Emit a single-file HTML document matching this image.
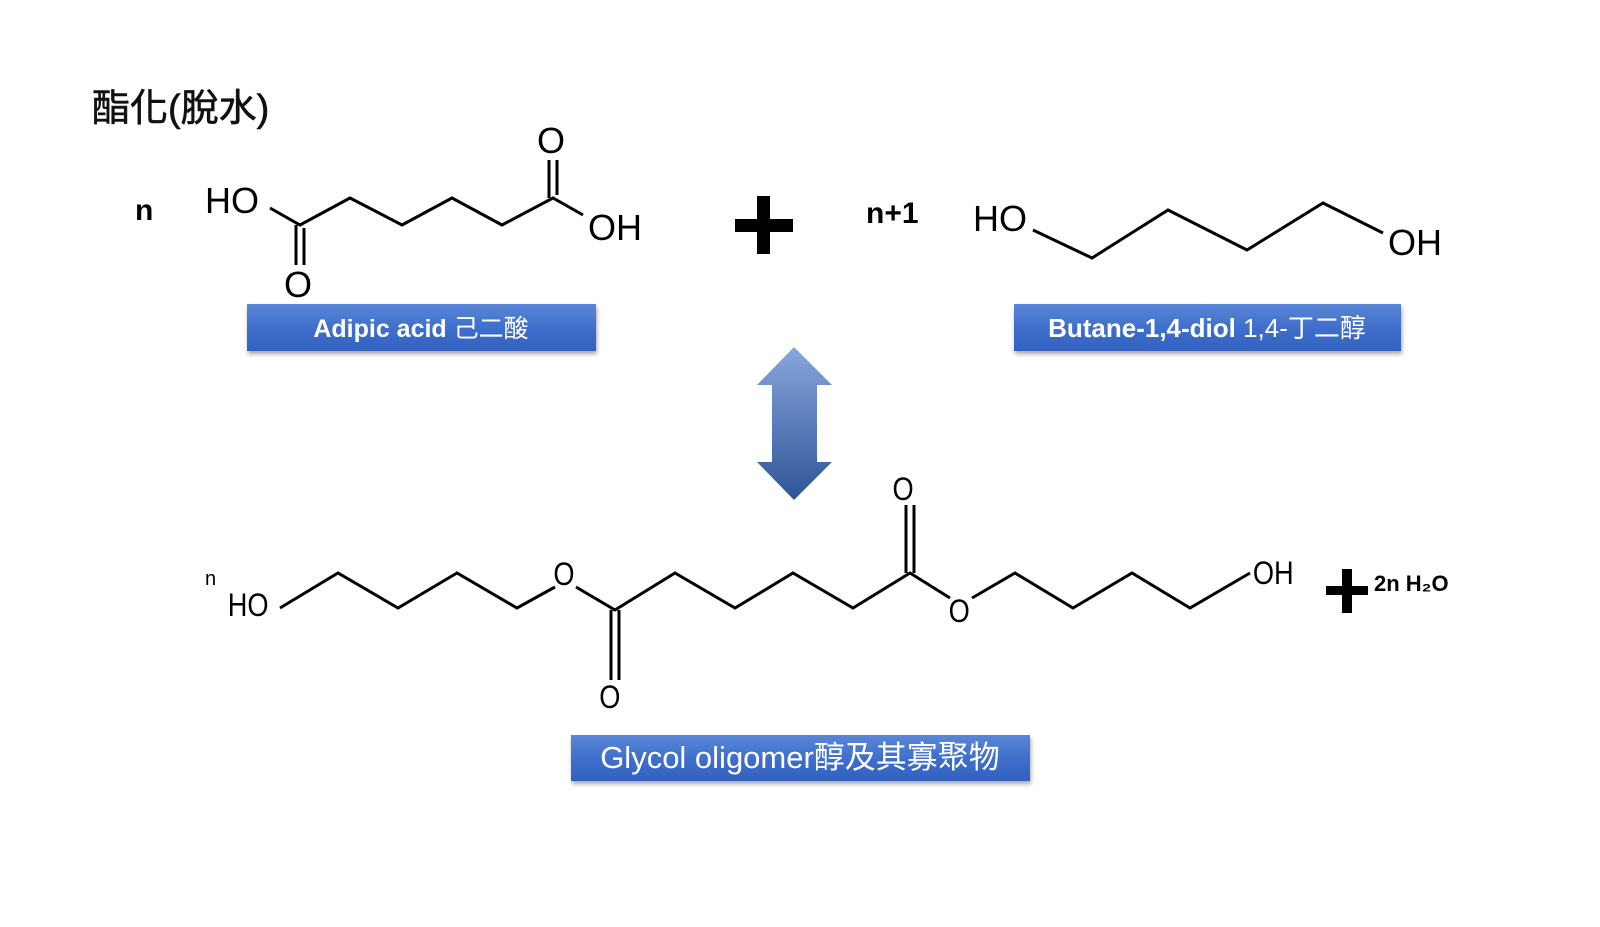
<!DOCTYPE html>
<html><head><meta charset="utf-8"><style>
body{margin:0;background:#fff;}
svg{display:block}
text{font-family:"Liberation Sans","Noto Sans CJK TC",sans-serif;}
</style></head><body>
<svg width="1600" height="927" viewBox="0 0 1600 927" xmlns="http://www.w3.org/2000/svg">
<defs>
<linearGradient id="bx" x1="0" y1="0" x2="0" y2="1">
<stop offset="0" stop-color="#5b86d6"/><stop offset="0.5" stop-color="#3f6fcc"/><stop offset="1" stop-color="#3261c0"/></linearGradient>
<linearGradient id="ar" x1="0" y1="0" x2="0" y2="1">
<stop offset="0" stop-color="#89a6dc"/><stop offset="1" stop-color="#2f5597"/></linearGradient>
<filter id="sh" x="-5%" y="-20%" width="110%" height="150%"><feDropShadow dx="1" dy="3" stdDeviation="2" flood-color="#000" flood-opacity="0.35"/></filter>
</defs>
<text x="92" y="121" font-size="38" fill="#111" stroke="#111" stroke-width="0.6">酯化(脫水)</text>

<g stroke="#000" stroke-width="3" fill="none" stroke-linejoin="miter">
<polyline points="270,208 300,225 350,198 402,225 452,198 502,225 553,198 583,215"/>
<line x1="296" y1="225" x2="296" y2="265"/><line x1="304" y1="228" x2="304" y2="265"/>
<line x1="549" y1="198" x2="549" y2="160"/><line x1="557" y1="195" x2="557" y2="160"/>
<polyline points="1033,230 1092,258 1168,210 1247,250 1323,203 1383,233"/>
<polyline points="280,608 338,573 398,608 457,573 517,608 555,587"/>
<polyline points="576,587 615,610 675,573 735,608 793,573 853,608 910,573 950,598"/>
<line x1="611" y1="610" x2="611" y2="680"/><line x1="619" y1="610" x2="619" y2="680"/>
<line x1="906" y1="573" x2="906" y2="505"/><line x1="914" y1="573" x2="914" y2="505"/>
<polyline points="972,598 1015,573 1073,608 1132,573 1190,608 1250,573"/>
</g>

<g font-size="36" fill="#000">
<text x="205" y="213">HO</text>
<text x="284" y="297">O</text>
<text x="537" y="153">O</text>
<text x="588" y="240">OH</text>
<text x="973" y="231">HO</text>
<text x="1388" y="255">OH</text>
</g>
<g font-size="32" fill="#000" transform="scale(0.85,1)">
<text x="268" y="616">HO</text>
<text x="651" y="585">O</text>
<text x="705" y="708">O</text>
<text x="1050" y="500">O</text>
<text x="1116" y="622">O</text>
<text x="1474" y="584">OH</text>
</g>
<text x="205" y="585" font-size="20" fill="#000">n</text>
<text x="135" y="220" font-size="30" font-weight="bold">n</text>
<text x="866" y="223" font-size="30" font-weight="bold">n+1</text>

<rect x="735" y="219" width="58" height="13" fill="#000"/>
<rect x="757" y="196" width="13" height="58" fill="#000"/>
<rect x="1326" y="586" width="42" height="9" fill="#000"/>
<rect x="1342" y="569" width="10" height="44" fill="#000"/>
<text x="1374" y="591" font-size="22" font-weight="bold">2n H₂O</text>

<polygon points="794,347 832,385 817,385 817,462 832,462 794,500 757,462 772,462 772,385 757,385" fill="url(#ar)"/>

<rect x="247" y="304" width="349" height="47" fill="url(#bx)" filter="url(#sh)"/>
<text x="421" y="337" font-size="25" font-weight="bold" fill="#fff" text-anchor="middle">Adipic acid <tspan font-weight="normal">己二酸</tspan></text>
<rect x="1014" y="304" width="387" height="47" fill="url(#bx)" filter="url(#sh)"/>
<text x="1207" y="337" font-size="26" fill="#fff" text-anchor="middle"><tspan font-weight="bold">Butane-1,4-diol</tspan> 1,4-丁二醇</text>
<rect x="571" y="735" width="459" height="46" fill="url(#bx)" filter="url(#sh)"/>
<text x="800" y="768" font-size="31" fill="#fff" text-anchor="middle">Glycol oligomer醇及其寡聚物</text>
</svg>
</body></html>
